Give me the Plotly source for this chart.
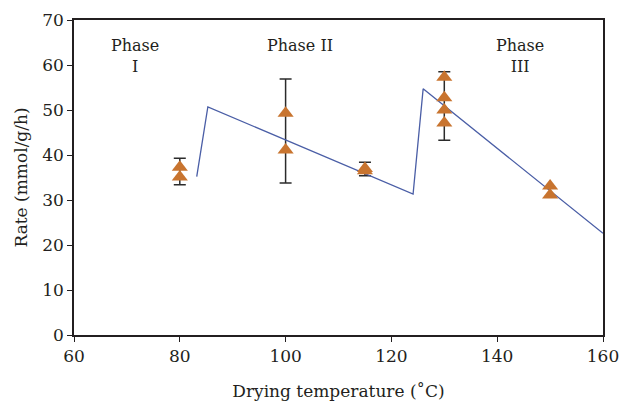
import plotly.graph_objects as go

# Model line (piecewise)
line_x = [83.2, 85.3, 124.1, 126.0, 160.0]
line_y = [35.2, 50.7, 31.3, 54.7, 22.6]

# Measured points
pt_x = [80, 80, 100, 100, 115, 115, 130, 130, 130, 130, 150, 150]
pt_y = [37.3, 35.1, 49.3, 41.1, 37.0, 36.5, 57.3, 52.7, 50.0, 47.1, 33.1, 31.1]

# Error bar ranges
err_x = [80, 100, 115, 130]
err_lo = [33.4, 33.8, 35.4, 43.3]
err_hi = [39.3, 56.9, 38.4, 58.5]

x_ticks = [60, 80, 100, 120, 140, 160]
y_ticks = [0, 10, 20, 30, 40, 50, 60, 70]

phase_x = [71.5, 102.7, 144.3]
phase_y = [62.0, 64.4, 62.0]
phase_labels = ["Phase<br>I", "Phase II", "Phase<br>III"]

FONT = "DejaVu Serif"
INK = "#231f20"

fig = go.Figure()

mid = [(a + b) / 2 for a, b in zip(err_lo, err_hi)]
fig.add_trace(go.Scatter(
    x=err_x, y=mid, mode="markers",
    marker=dict(size=1, color="rgba(0,0,0,0)"),
    error_y=dict(type="data", symmetric=False,
                 array=[h - m for h, m in zip(err_hi, mid)],
                 arrayminus=[m - l for m, l in zip(mid, err_lo)],
                 color="#2b2b2b", thickness=1.5, width=6),
    showlegend=False, hoverinfo="skip"))

fig.add_trace(go.Scatter(
    x=line_x, y=line_y, mode="lines",
    line=dict(color="#4a5ea6", width=1.3),
    showlegend=False))

fig.add_trace(go.Scatter(
    x=pt_x, y=pt_y, mode="markers",
    marker=dict(symbol="triangle-up", size=14, color="#c8742f"),
    showlegend=False))

for x, y, t in zip(phase_x, phase_y, phase_labels):
    fig.add_annotation(x=x, y=y, text=t, showarrow=False,
                       font=dict(family=FONT, size=16, color=INK),
                       align="center", yanchor="middle")

fig.update_layout(
    width=619, height=404,
    margin=dict(l=74, r=16, t=20, b=69),
    paper_bgcolor="white", plot_bgcolor="white",
    font=dict(family=FONT, size=17, color=INK),
    xaxis=dict(range=[60, 160], tickvals=x_ticks, ticks="outside",
               ticklen=5, tickcolor=INK, showline=True, linecolor=INK,
               linewidth=1.5, mirror=True, showgrid=False, zeroline=False,
               automargin=False, ticklabeloverflow="allow",
               title=dict(text="Drying temperature (˚C)", standoff=20,
                          font=dict(family=FONT, size=17))),
    yaxis=dict(range=[0, 70], tickvals=y_ticks, ticks="outside",
               ticklen=5, tickcolor=INK, showline=True, linecolor=INK,
               linewidth=1.5, mirror=True, showgrid=False, zeroline=False,
               automargin=False, ticklabeloverflow="allow",
               title=dict(text="Rate (mmol/g/h)", standoff=10,
                          font=dict(family=FONT, size=17))),
)

fig.write_html("out.html")
